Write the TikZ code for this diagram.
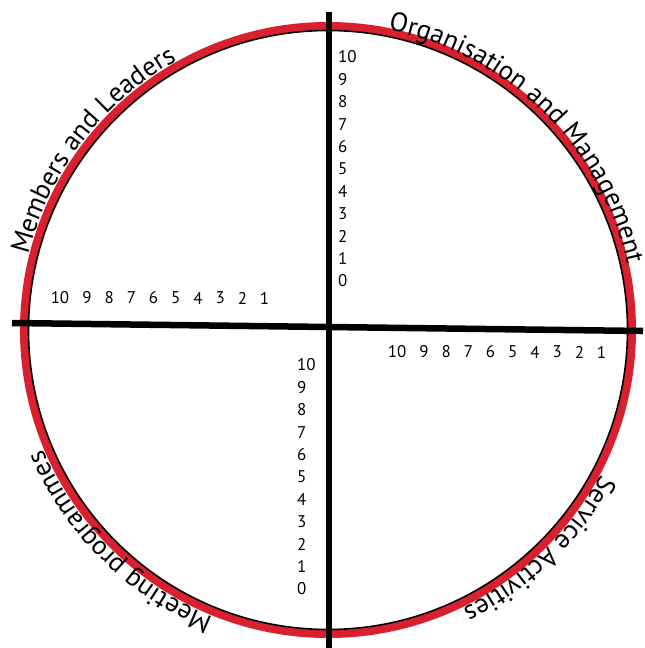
\documentclass[tikz,border=0pt]{standalone}
\usepackage{fontspec}
\setmainfont{PT Sans}
\usepackage{tikz}
\usetikzlibrary{decorations.text}
\definecolor{ringred}{HTML}{D9202F}

\begin{document}
\begin{tikzpicture}[x=1bp,y=1bp,
  axis/.style={line width=6.5bp,black},
  ring/.style={draw=ringred,line width=8bp},
  rim/.style={draw=black,line width=1.6bp},
  tick/.style={font=\fontsize{17}{19}\selectfont,inner sep=0pt},
  arclabel/.style={decorate,decoration={text along path,text align=center,
    text={|\fontsize{27}{31}\selectfont|#1}}}
]
  \useasboundingbox (-328,-318) rectangle (317,330);
  \coordinate (c) at (0,0);
  % ring
  \draw[ring] (c) circle[radius=304];
  \draw[rim] (c) circle[radius=299.5];
  % axes
  \coordinate (west) at (-316,7);
  \coordinate (east) at (315,-1);
  \coordinate (north) at (1,318);
  \coordinate (south) at (1,-318);
  \draw[axis] (west) -- (east);
  \draw[axis] (north) -- (south);
  % scales
  \foreach \n [count=\i from 0] in {10,9,...,0}
    \node[tick,anchor=west] (ur\n) at (10,273-22.4*\i) {\n};
  \foreach \n [count=\i from 0] in {10,9,...,0}
    \node[tick,anchor=west] (ll\n) at (-31,-35-22.4*\i) {\n};
  \node[tick] (ul10) at (-268,32) {10};
  \foreach \n [count=\i from 0] in {9,8,...,1}
    \node[tick] (ul\n) at (-241+22.2*\i,32) {\n};
  \node[tick] (lr10) at (69,-22) {10};
  \foreach \n [count=\i from 0] in {9,8,...,1}
    \node[tick] (lr\n) at (96+22.2*\i,-22) {\n};
  % quadrant names
  \path[arclabel={Members and Leaders}] (172.6:309) arc[start angle=172.6,end angle=112.6,radius=309];
  \path[arclabel={Organisation and Management}] (90.5:306) arc[start angle=90.5,end angle=0.5,radius=306];
  \path[arclabel={Service Activities}] (-16:309) arc[start angle=-16,end angle=-76,radius=309];
  \path[arclabel={Meeting programmes}] (-99.5:309) arc[start angle=-99.5,end angle=-169.5,radius=309];
\end{tikzpicture}
\end{document}
